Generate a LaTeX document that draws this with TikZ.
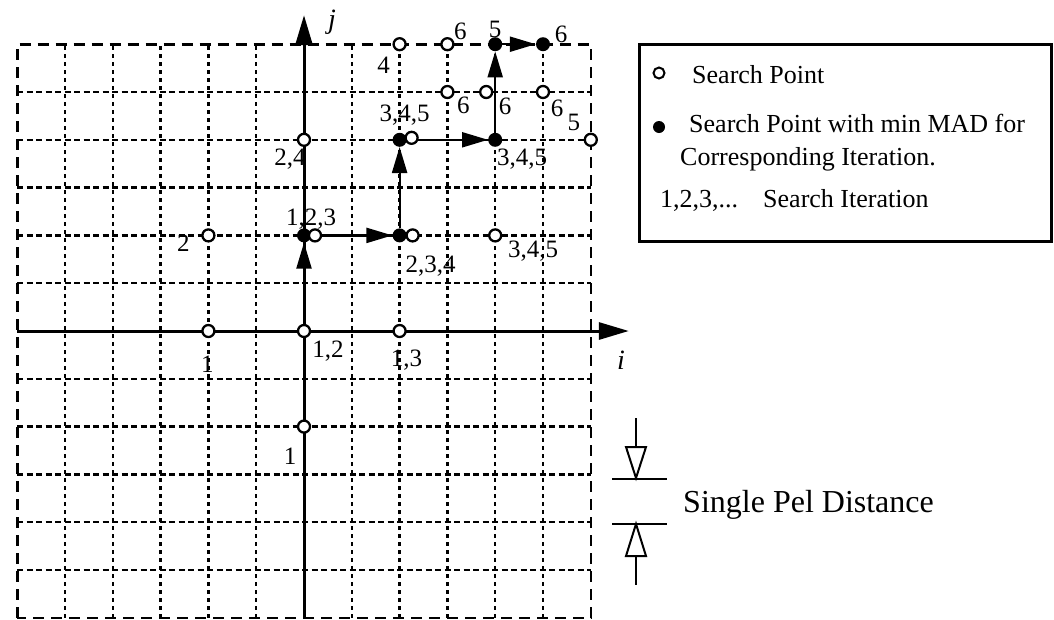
\documentclass[tikz,border=0pt]{standalone}
\usepackage{fontspec}
\setmainfont{Liberation Serif}
\usetikzlibrary{arrows.meta,calc}
\begin{document}
\begin{tikzpicture}[x=1pt,y=1pt,
  hgrid/.style={line width=2.4pt, dash pattern=on 6pt off 3.5pt},
  vgrid/.style={line width=2.4pt, dash pattern=on 4pt off 4pt},
  frameline/.style={line width=2.6pt, dash pattern=on 11pt off 7pt},
  axisline/.style={line width=3pt, -{Triangle[length=30pt,width=17pt]}},
  openpt/.style={circle, draw, line width=2.3pt, fill=white, minimum size=12pt, inner sep=0pt},
  fillpt/.style={circle, fill=black, minimum size=14pt, inner sep=0pt},
  patharrow/.style={line width=2.2pt, -{Triangle[length=26pt,width=15pt]}},
  lbl/.style={font=\fontsize{25}{30}\selectfont, inner sep=0pt},
  legtxt/.style={font=\fontsize{26}{31}\selectfont, inner sep=0pt, anchor=base west},
  pelline/.style={line width=2pt}
]
\useasboundingbox (0,0) rectangle (1054,-619);

\begin{scope}[shift={(304pt,-331pt)}, x=47.8pt, y=47.8pt]
  % grid
  \foreach \k in {-5,...,-1,1,2,3,4,5} {
    \draw[vgrid] (\k,-6) -- (\k,6);
    \draw[hgrid] (-6,\k) -- (6,\k);
  }
  \draw[frameline] (-6,-6) rectangle (6,6);
  % axes
  \coordinate (jbot) at (0,-6);
  \coordinate (jtop) at ($(0,6)+(0,29pt)$);
  \coordinate (ileft) at (-6,0);
  \coordinate (iright) at ($(6,0)+(38pt,0)$);
  \draw[axisline] (jbot) -- (jtop);
  \draw[axisline] (ileft) -- (iright);

  % filled points (minimum MAD)
  \node[fillpt] (m1) at (0,2) {};
  \node[fillpt] (m2) at (2,2) {};
  \node[fillpt] (m3) at (2,4) {};
  \node[fillpt] (m4) at (4,4) {};
  \node[fillpt] (m5) at (4,6) {};
  \node[fillpt] (m6) at (5,6) {};

  % open point at origin (start of path)
  \node[openpt] (b) at (0,0) {};

  % path arrows
  \draw[patharrow] (b) -- (m1);
  \draw[patharrow] (m1) -- (m2);
  \draw[patharrow] (m2) -- (m3);
  \draw[patharrow] (m3) -- (m4);
  \draw[patharrow] (m4) -- (m5);
  \draw[patharrow] (m5) -- (m6);

  % open search points
  \node[openpt] (a) at (-2,0) {};
  \node[openpt] (c) at (2,0) {};
  \node[openpt] (d) at (0,-2) {};
  \node[openpt] (e) at (-2,2) {};
  \node[openpt] (f) at (0,4) {};
  \node[openpt] (o1) at ($(0,2)+(11pt,0)$) {};
  \node[openpt] (o2) at ($(2,2)+(13pt,0)$) {};
  \node[openpt] (g) at (4,2) {};
  \node[openpt] (o3) at ($(2,4)+(12pt,2pt)$) {};
  \node[openpt] (h) at (6,4) {};
  \node[openpt] (k) at (2,6) {};
  \node[openpt] (l) at (3,6) {};
  \node[openpt] (n1) at (3,5) {};
  \node[openpt] (n2) at ($(4,5)+(-9pt,0)$) {};
  \node[openpt] (n3) at (5,5) {};

  % labels
  \node[lbl] at ([shift={(-1pt,-33pt)}]a) {1};
  \node[lbl] at ([shift={(24pt,-20pt)}]b) {1,2};
  \node[lbl] at ([shift={(7pt,-29pt)}]c) {1,3};
  \node[lbl] at ([shift={(-14pt,-30pt)}]d) {1};
  \node[lbl] at ([shift={(-25pt,-8pt)}]e) {2};
  \node[lbl] at ([shift={(-14pt,-19pt)}]f) {2,4};
  \node[lbl] at ([shift={(7pt,16pt)}]m1) {1,2,3};
  \node[lbl] at ([shift={(31pt,-31pt)}]m2) {2,3,4};
  \node[lbl] at ([shift={(38pt,-16pt)}]g) {3,4,5};
  \node[lbl] at ([shift={(5pt,25pt)}]m3) {3,4,5};
  \node[lbl] at ([shift={(27pt,-19pt)}]m4) {3,4,5};
  \node[lbl] at ([shift={(-17pt,17pt)}]h) {5};
  \node[lbl] at ([shift={(-16pt,-21pt)}]k) {4};
  \node[lbl] at ([shift={(13pt,13pt)}]l) {6};
  \node[lbl] at ([shift={(0pt,15pt)}]m5) {5};
  \node[lbl] at ([shift={(18pt,10pt)}]m6) {6};
  \node[lbl] at ([shift={(16pt,-13pt)}]n1) {6};
  \node[lbl] at ([shift={(19pt,-14pt)}]n2) {6};
  \node[lbl] at ([shift={(14pt,-16pt)}]n3) {6};
\end{scope}

% axis names
\node[font=\fontsize{28}{32}\selectfont\itshape, inner sep=0pt] (jlab) at (332,-22) {j};
\node[font=\fontsize{28}{32}\selectfont\itshape, inner sep=0pt] (ilab) at (621,-360) {i};

% legend
\node[draw, line width=2.5pt, minimum width=412pt, minimum height=197pt, anchor=north west, inner sep=0pt] (legend) at (638,-43) {};
\node[openpt, minimum size=11pt, line width=2pt] (lo) at (659,-73) {};
\node[fillpt, minimum size=12pt] (lf) at (659,-127) {};
\node[legtxt] (t1) at (692,-83) {Search Point};
\node[legtxt] (t2) at (689,-132) {Search Point with min MAD for};
\node[legtxt] (t3) at (680,-165) {Corresponding Iteration.};
\node[legtxt] (t4) at (660,-207) {1,2,3,...};
\node[legtxt] (t5) at (763,-207) {Search Iteration};

% single pel distance
\draw[pelline] (636,-418) -- (636,-447);
\draw[pelline] (626,-447) -- (646,-447) -- (636,-478) -- cycle;
\draw[pelline] (612,-479) -- (667,-479);
\draw[pelline] (612,-524) -- (667,-524);
\draw[pelline] (636,-524) -- (626,-556) -- (646,-556) -- cycle;
\draw[pelline] (636,-556) -- (636,-585);
\node[font=\fontsize{32}{38}\selectfont, inner sep=0pt, anchor=base west] (pel) at (683,-512) {Single Pel Distance};
\end{tikzpicture}
\end{document}
